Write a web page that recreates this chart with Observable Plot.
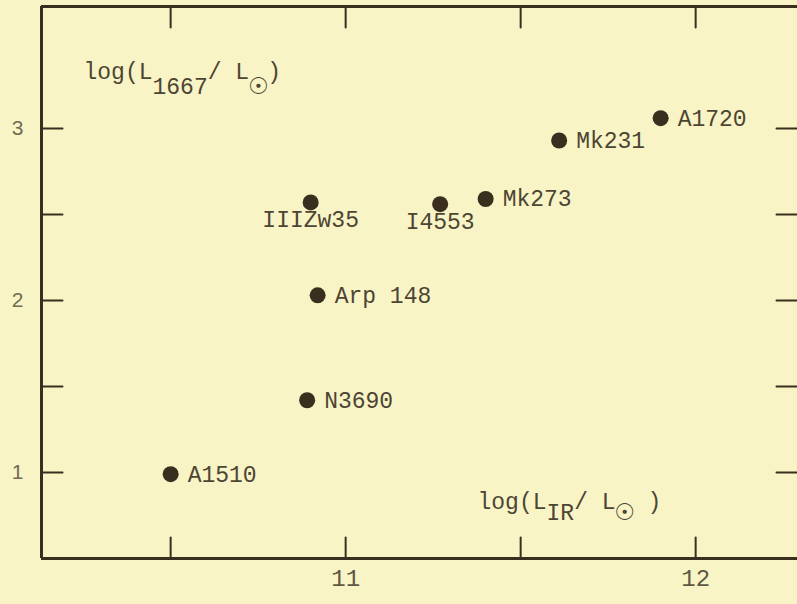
<!DOCTYPE html>
<html><head><meta charset="utf-8">
<script src="https://cdn.jsdelivr.net/npm/d3@7"></script>
<script src="https://cdn.jsdelivr.net/npm/@observablehq/plot@0.6"></script>
<style>
html,body{margin:0;padding:0;background:#f8f4c6;overflow:hidden}
</style></head><body><div id="chart"></div>
<script>
const galaxies = ["A1510","N3690","Arp 148","IIIZw35","I4553","Mk273","Mk231","A1720"];
const logLIR = [10.50,10.89,10.92,10.90,11.27,11.40,11.61,11.90];
const logL1667 = [0.99,1.42,2.03,2.57,2.56,2.59,2.93,3.06];
const labelSide = ["right","right","right","below","below","right","right","right"];
const xTicks = [10.5,11,11.5,12];
const xTickLabels = [11,12];
const yTicks = [1,1.5,2,2.5,3];
const yTickLabels = [1,2,3];
const xDomain = [10.131,12.291];
const yDomain = [0.5,3.709];
const yTitleParts = ["log(L","1667","/ L","☉",")"];
const xTitleParts = ["log(L","IR","/ L","☉"," )"];

const rows = galaxies.map((name,i)=>({name, x: logLIR[i], y: logL1667[i], side: labelSide[i]}));
const ink = "#3a2f1f";
const textInk = "#4d4533";
const tickInk = "#726b55";
const mono = "'Liberation Mono', 'DejaVu Sans Mono', monospace";
const tickShape = {draw(ctx, l) { ctx.moveTo(0, 0); ctx.lineTo(0, -l); }};
const tickOpts = {length: 21, anchor: "start", shape: tickShape, stroke: ink, strokeWidth: 2};

const chart = Plot.plot({
  width: 797, height: 604,
  marginLeft: 41, marginRight: 0, marginTop: 6, marginBottom: 46,
  x: {domain: xDomain, axis: null},
  y: {domain: yDomain, axis: null},
  style: {background: "transparent", fontFamily: mono, fontSize: "23px", color: textInk},
  marks: [
    Plot.ruleX([xDomain[0]], {stroke: ink, strokeWidth: 3}),
    Plot.ruleY(yDomain, {stroke: ink, strokeWidth: 3}),
    Plot.vector(xTicks, {x: d => d, frameAnchor: "bottom", rotate: 0, ...tickOpts}),
    Plot.vector(xTicks, {x: d => d, frameAnchor: "top", rotate: 180, ...tickOpts}),
    Plot.vector(yTicks, {y: d => d, frameAnchor: "left", rotate: 90, ...tickOpts}),
    Plot.vector(yTicks, {y: d => d, frameAnchor: "right", rotate: -90, ...tickOpts}),
    Plot.text(xTickLabels, {x: d => d, frameAnchor: "bottom", dy: 27, text: d => String(d), fontSize: 24, fill: "#5e5845", fontFamily: mono}),
    Plot.text(yTickLabels, {y: d => d, frameAnchor: "left", dx: -24, text: d => String(d), textAnchor: "middle", fontSize: 21, fill: tickInk, fontFamily: "'Liberation Sans', sans-serif"}),
    Plot.dot(rows, {x: "x", y: "y", r: 8, fill: ink}),
    Plot.text(rows.filter(d => d.side === "right"), {x: "x", y: "y", text: "name", textAnchor: "start", dx: 17, fill: textInk, fontSize: 23}),
    Plot.text(rows.filter(d => d.side === "below"), {x: "x", y: "y", text: "name", textAnchor: "middle", dy: 17, fill: textInk, fontSize: 23}),
    Plot.text([yTitleParts.join("")], {frameAnchor: "top-left", dx: 42, dy: 72, lineAnchor: "bottom", textAnchor: "start", fill: textInk, fontSize: 23}),
    Plot.text([xTitleParts.join("")], {frameAnchor: "bottom-left", dx: 436, dy: -50, lineAnchor: "bottom", textAnchor: "start", fill: textInk, fontSize: 23})
  ]
});
document.getElementById("chart").appendChild(chart);

function subscriptify(parts, shift) {
  const full = parts.join("");
  d3.select(chart).selectAll("text").filter(function(){ return this.textContent === full; }).each(function(){
    const t = d3.select(this);
    t.text(null);
    parts.forEach((p, i) => {
      const sub = i % 2 === 1;
      const span = t.append("tspan").text(p);
      if (i > 0) span.attr("dy", sub ? shift : -shift);
      if (p === "☉") span.attr("font-size", 30);
    });
  });
}
subscriptify(yTitleParts, 15);
subscriptify(xTitleParts, 11);
</script>
</body></html>
